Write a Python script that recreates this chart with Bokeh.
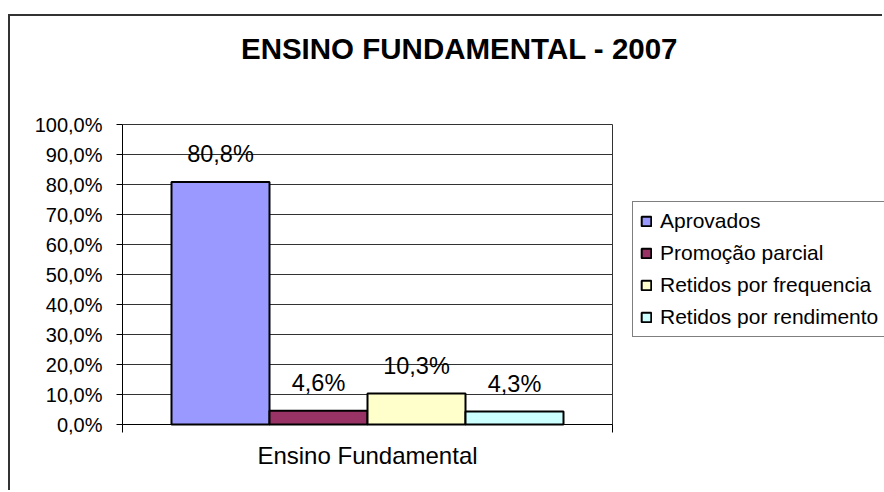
from bokeh.plotting import figure
from bokeh.models import (Range1d, FixedTicker, LinearAxis, ColumnDataSource,
                          Legend, LegendItem, Label)
from bokeh.core.properties import value
from bokeh.embed import file_html
from bokeh.resources import INLINE

# ---- data ----
title_text = "ENSINO FUNDAMENTAL - 2007"
category = ["Ensino Fundamental"]
series = ["Aprovados", "Promoção parcial", "Retidos por frequencia", "Retidos por rendimento"]
values = [80.8, 4.6, 10.3, 4.3]
colors = ["#9999FF", "#993366", "#FFFFCC", "#CCFFFF"]
y_ticks = [0, 10, 20, 30, 40, 50, 60, 70, 80, 90, 100]
y_tick_labels = ["0,0%", "10,0%", "20,0%", "30,0%", "40,0%", "50,0%",
                 "60,0%", "70,0%", "80,0%", "90,0%", "100,0%"]

FONT = "Liberation Sans"
n = len(series)

# canvas placement on the page (the chart border sits just outside it)
CX, CY, W, H = 10, 16, 874, 476
# plot area on the page: x from 122 to 612 (5 category units), y from 124 (100%) to 424 (0%)
PX_PER_X = 98.0
PX_PER_Y = 3.0

def xd(px):
    return (px - 122) / PX_PER_X - 0.5

def yd(py):
    return (424 - py) / PX_PER_Y

src = ColumnDataSource(dict(
    x=[i + 0.5 for i in range(n)],
    top=values,
    color=colors,
    name=series,
    label=[("%.1f%%" % v).replace(".", ",") for v in values],
))

p = figure(width=W, height=H, output_backend="svg", toolbar_location=None,
           x_range=Range1d(xd(CX), xd(CX + W)), y_range=Range1d(yd(CY + H), yd(CY)),
           x_axis_type=None, y_axis_type=None,
           min_border=0, min_border_left=0, min_border_right=0,
           min_border_top=0, min_border_bottom=0)
p.styles = {"margin-left": "%dpx" % CX, "margin-top": "%dpx" % CY,
            "box-shadow": "-2px -2px 0 0 #333333"}
p.background_fill_color = "white"
p.border_fill_color = "white"
p.outline_line_color = None
p.xgrid.grid_line_color = None
p.ygrid.grid_line_color = None

x_lo, x_hi = -0.5, n + 0.5

# gridlines and plot-area border
p.segment(x0=x_lo, x1=x_hi, y0=y_ticks, y1=y_ticks, line_color="#333333", line_width=1)
p.segment(x0=[x_hi], x1=[x_hi], y0=[y_ticks[0]], y1=[y_ticks[-1]],
          line_color="#333333", line_width=1)

# y axis
yax = LinearAxis(ticker=FixedTicker(ticks=y_ticks), fixed_location=x_lo,
                 bounds=(y_ticks[0], y_ticks[-1]),
                 major_label_overrides={t: l for t, l in zip(y_ticks, y_tick_labels)})
yax.major_tick_out = 6
yax.major_tick_in = 0
yax.minor_tick_line_color = None
yax.axis_line_color = "black"
yax.major_tick_line_color = "black"
yax.major_label_standoff = 14
yax.major_label_text_font = FONT
yax.major_label_text_font_size = "20px"
yax.major_label_text_color = "black"
p.add_layout(yax, "left")

# x axis
xax = LinearAxis(ticker=FixedTicker(ticks=[n / 2], minor_ticks=[x_lo, x_hi]),
                 fixed_location=0, bounds=(x_lo, x_hi),
                 major_label_overrides={n / 2: category[0]})
xax.major_tick_line_color = None
xax.major_tick_out = 0
xax.major_tick_in = 0
xax.minor_tick_out = 8
xax.minor_tick_in = 0
xax.minor_tick_line_color = "black"
xax.axis_line_color = "black"
xax.major_label_standoff = 9
xax.major_label_text_font = FONT
xax.major_label_text_font_size = "24px"
xax.major_label_text_color = "black"
p.add_layout(xax, "below")

r = p.vbar(x="x", top="top", width=1, source=src, fill_color="color",
           line_color="black", line_width=2)

p.text(x="x", y="top", text="label", source=src, y_offset=-28,
       text_align="center", text_baseline="alphabetic",
       text_font=value(FONT), text_font_size=value("23.5px"), text_color="black")

title = Label(x=xd(459), y=yd(48), text=title_text, text_font=FONT,
              text_font_size="29.5px", text_font_style="bold", text_align="center",
              text_baseline="middle", text_color="black")
p.add_layout(title)

items = [LegendItem(label=s, renderers=[r], index=i) for i, s in enumerate(series)]
legend = Legend(items=items, location=(632 - CX, CY + H - 337))
legend.label_text_font = FONT
legend.label_text_font_size = "21px"
legend.label_text_color = "black"
legend.glyph_width = 12
legend.glyph_height = 12
legend.label_standoff = 8
legend.padding = 7
legend.spacing = 8
legend.margin = 0
legend.border_line_color = "black"
legend.border_line_width = 1
legend.background_fill_color = "white"
legend.background_fill_alpha = 1
p.add_layout(legend, "center")

open("out.html", "w").write(file_html(p, INLINE))
